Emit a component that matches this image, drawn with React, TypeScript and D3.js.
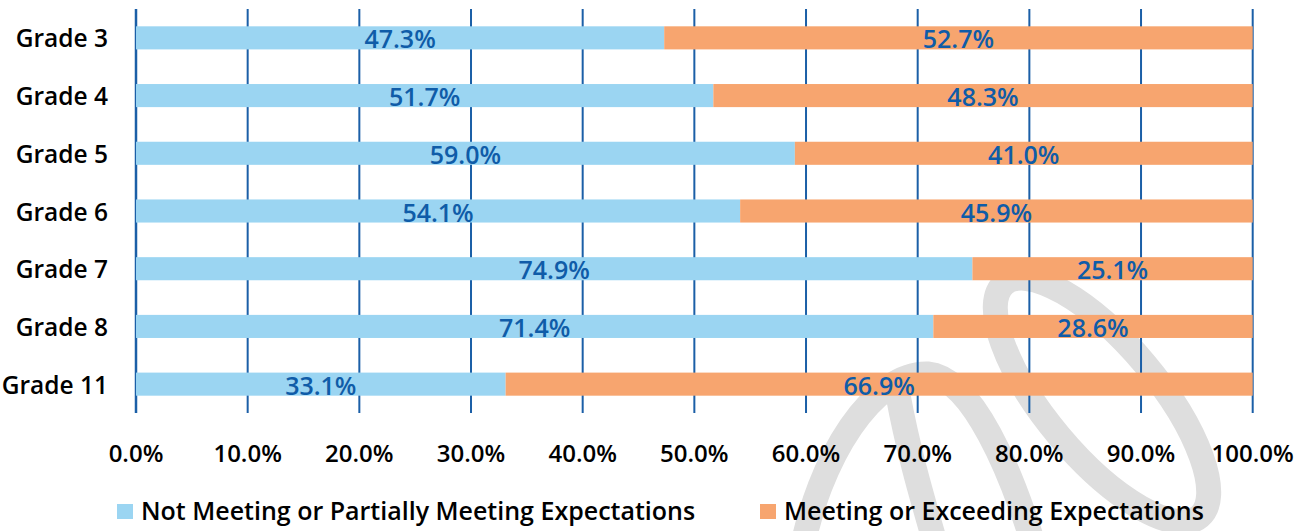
import React from "react";
import * as d3 from "d3";

const categories = ["Grade 3", "Grade 4", "Grade 5", "Grade 6", "Grade 7", "Grade 8", "Grade 11"];
const notMeeting = [47.3, 51.7, 59.0, 54.1, 74.9, 71.4, 33.1];
const meeting = [52.7, 48.3, 41.0, 45.9, 25.1, 28.6, 66.9];
const seriesNames = ["Not Meeting or Partially Meeting Expectations", "Meeting or Exceeding Expectations"];
const tickValues = [0, 10, 20, 30, 40, 50, 60, 70, 80, 90, 100];

const W = 1305;
const H = 531;
const FONT = "'Open Sans', 'Noto Sans', sans-serif";
const BLUE = "#9bd5f2";
const ORANGE = "#f7a56f";
const GRID = "#1b5fa7";
const LABEL = "#0f5ca8";

export default function App() {
  const x = d3.scaleLinear().domain([0, 100]).range([136, 1252.7]);
  const y = d3.scaleBand<string>().domain(categories).range([9, 413]).paddingInner(0.6).paddingOuter(0.3);
  const bh = y.bandwidth();

  return (
    <svg width={W} height={H} style={{ position: "absolute", left: 0, top: 0, background: "#fff" }} fontFamily={FONT}>
      {/* watermark */}
      <g fill="none" stroke="#dedede" strokeWidth={25} strokeLinecap="round">
        <path d="M 800 560 C 818 455, 875 372, 928 374 C 972 378, 1012 470, 1038 560" />
        <path d="M 898 395 C 910 460, 926 510, 940 560" />
        <ellipse cx={1102} cy={400} rx={152} ry={56} transform="rotate(50 1102 400)" />
      </g>
      {/* gridlines */}
      {tickValues.map((t) => (
        <line key={t} x1={x(t)} x2={x(t)} y1={9} y2={413} stroke={GRID} strokeWidth={t === 0 ? 2.5 : 2} />
      ))}
      {/* bars */}
      {categories.map((c, i) => {
        const y0 = y(c)!;
        const a = notMeeting[i];
        const b = meeting[i];
        return (
          <g key={c}>
            <rect x={x(0)} y={y0} width={x(a) - x(0)} height={bh} fill={BLUE} />
            <rect x={x(a)} y={y0} width={x(a + b) - x(a)} height={bh} fill={ORANGE} />
            <text x={(x(0) + x(a)) / 2} y={y0 + bh / 2 + 10.5} textAnchor="middle" fill={LABEL} fontSize={25} fontWeight={600}>
              {a.toFixed(1) + "%"}
            </text>
            <text x={(x(a) + x(a + b)) / 2} y={y0 + bh / 2 + 10.5} textAnchor="middle" fill={LABEL} fontSize={25} fontWeight={600}>
              {b.toFixed(1) + "%"}
            </text>
            <text x={108} y={y0 + bh / 2 + 9.5} textAnchor="end" fill="#000" fontSize={24.5} fontWeight={600}>
              {c}
            </text>
          </g>
        );
      })}
      {/* tick labels */}
      {tickValues.map((t) => (
        <text key={t} x={x(t)} y={462} textAnchor="middle" fill="#000" fontSize={24} fontWeight={600}>
          {t.toFixed(1) + "%"}
        </text>
      ))}
      {/* legend */}
      <rect x={117} y={504} width={16} height={15} fill={BLUE} />
      <text x={141} y={520} fill="#000" fontSize={25} fontWeight={600}>{seriesNames[0]}</text>
      <rect x={760} y={504} width={16} height={15} fill={ORANGE} />
      <text x={784} y={520} fill="#000" fontSize={25} fontWeight={600}>{seriesNames[1]}</text>
    </svg>
  );
}
